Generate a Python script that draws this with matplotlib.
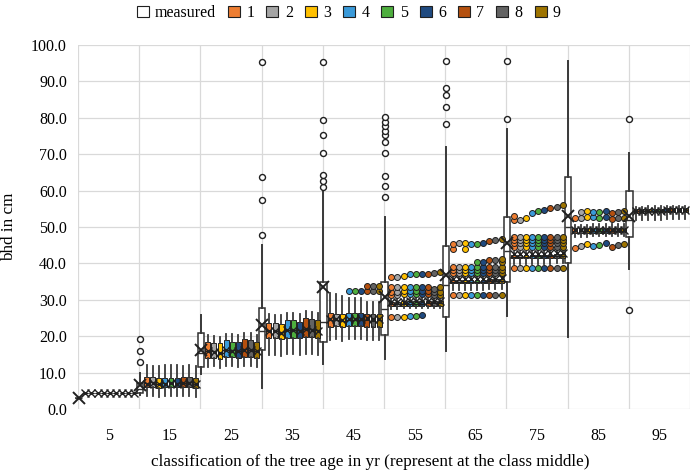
import matplotlib
matplotlib.use('Agg')
import matplotlib.pyplot as plt
from matplotlib.patches import Patch

plt.rcParams['font.family'] = ['Liberation Serif', 'DejaVu Serif']
plt.rcParams['font.size'] = 11

# age classes (class middle) and series
class_mid = [5, 15, 25, 35, 45, 55, 65, 75, 85, 95]
series_names = ['measured', '1', '2', '3', '4', '5', '6', '7', '8', '9']
model_colors = ['#ED7D31', '#A5A5A5', '#FFC000', '#3A9AD9', '#4EAE3E',
                '#1F4A80', '#B4500F', '#636363', '#9E7400']

# measured bhd per class
meas_lo = [3.1, 3.8, 9.5, 5.7, 12.5, 13.6, 16.0, 25.5, 19.9, 38.4]
meas_q1 = [3.1, 4.5, 11.6, 16.2, 18.5, 20.3, 25.4, 35.0, 40.0, 47.3]
meas_med = [3.1, 5.5, 15.5, 21.5, 24.0, 27.5, 34.0, 43.5, 50.0, 52.0]
meas_q3 = [3.1, 7.2, 20.8, 27.7, 35.0, 35.0, 44.8, 52.7, 63.8, 60.0]
meas_hi = [3.1, 10.0, 25.8, 45.0, 60.6, 52.8, 71.9, 76.8, 95.6, 70.2]
meas_mean = [3.1, 6.6, 16.2, 23.1, 33.4, 30.9, 36.8, 45.7, 53.0, 53.0]
meas_out = [
    [],
    [12.8, 16.0, 19.2],
    [],
    [47.8, 57.5, 63.7, 95.4],
    [61.1, 62.7, 64.3, 70.2, 75.3, 79.5, 95.4],
    [58.3, 61.3, 64.0, 70.2, 73.4, 75.3, 76.5, 77.7, 78.9, 80.1],
    [78.2, 82.9, 86.3, 88.1, 95.6],
    [79.7, 95.6],
    [],
    [27.2, 79.7],
]

# model predictions: rows = classes, columns = models 1..9
mod_lo = [
    [4.3, 4.3, 4.3, 4.3, 4.3, 4.3, 4.3, 4.3, 4.3],
    [3.5, 3.6, 3.4, 3.5, 3.5, 3.5, 3.6, 3.6, 3.4],
    [11.6, 11.7, 11.4, 11.8, 11.8, 11.6, 11.9, 11.8, 11.6],
    [14.8, 14.9, 14.6, 15.0, 15.0, 14.9, 15.1, 15.0, 14.8],
    [19.0, 19.1, 18.8, 19.2, 19.2, 19.1, 19.0, 18.9, 19.0],
    [27.6, 27.6, 27.7, 27.7, 27.7, 27.7, 27.8, 27.8, 27.8],
    [32.7, 32.7, 32.7, 32.8, 32.8, 32.8, 32.9, 32.9, 32.9],
    [39.8, 39.8, 39.8, 39.9, 39.9, 39.9, 39.9, 40.0, 40.0],
    [47.3, 47.3, 47.3, 47.4, 47.4, 47.4, 47.4, 47.5, 47.5],
    [51.9, 51.9, 52.0, 52.0, 52.0, 52.1, 52.1, 52.1, 52.2],
]
mod_q1 = [
    [4.3, 4.3, 4.3, 4.3, 4.3, 4.3, 4.3, 4.3, 4.3],
    [6.0, 6.1, 5.9, 6.0, 6.0, 6.0, 6.0, 6.1, 5.9],
    [13.9, 14.0, 13.6, 14.2, 14.2, 14.0, 14.3, 14.2, 13.9],
    [19.4, 19.5, 19.2, 19.6, 19.6, 19.5, 19.8, 19.7, 19.5],
    [22.6, 22.7, 22.4, 22.8, 22.8, 22.7, 22.6, 22.5, 22.6],
    [28.2, 28.2, 28.3, 28.3, 28.3, 28.3, 28.4, 28.4, 28.4],
    [34.5, 34.5, 34.5, 34.6, 34.6, 34.6, 34.7, 34.7, 34.7],
    [41.4, 41.4, 41.4, 41.5, 41.5, 41.5, 41.5, 41.6, 41.6],
    [48.3, 48.3, 48.3, 48.4, 48.4, 48.4, 48.4, 48.5, 48.5],
    [53.9, 53.9, 54.0, 54.0, 54.0, 54.1, 54.1, 54.1, 54.2],
]
mod_med = [
    [4.3, 4.3, 4.3, 4.3, 4.3, 4.3, 4.3, 4.3, 4.3],
    [7.2, 7.3, 7.0, 7.1, 7.2, 7.1, 7.2, 7.3, 7.0],
    [16.0, 15.8, 15.4, 16.3, 16.2, 16.0, 16.5, 16.3, 15.9],
    [21.5, 21.5, 21.2, 21.8, 21.8, 21.6, 22.1, 21.9, 21.7],
    [24.4, 24.4, 24.2, 24.5, 24.5, 24.4, 24.4, 24.3, 24.4],
    [28.8, 28.8, 28.9, 28.9, 28.9, 28.9, 29.0, 29.0, 29.0],
    [34.9, 34.9, 34.9, 35.0, 35.0, 35.0, 35.1, 35.1, 35.1],
    [41.8, 41.8, 41.8, 41.9, 41.9, 41.9, 41.9, 42.0, 42.0],
    [48.8, 48.8, 48.8, 48.9, 48.9, 48.9, 48.9, 49.0, 49.0],
    [54.3, 54.3, 54.4, 54.4, 54.4, 54.5, 54.5, 54.5, 54.6],
]
mod_q3 = [
    [4.3, 4.3, 4.3, 4.3, 4.3, 4.3, 4.3, 4.3, 4.3],
    [8.9, 8.8, 8.6, 8.6, 8.6, 8.6, 8.8, 8.8, 8.4],
    [18.5, 18.2, 18.0, 19.0, 18.5, 18.5, 19.2, 19.0, 18.5],
    [23.7, 23.7, 23.4, 24.4, 24.4, 24.0, 25.0, 24.7, 24.4],
    [26.3, 26.2, 26.0, 26.3, 26.3, 26.3, 26.2, 26.0, 26.2],
    [29.5, 29.5, 29.6, 29.6, 29.6, 29.6, 29.7, 29.7, 29.7],
    [35.4, 35.4, 35.4, 35.5, 35.5, 35.5, 35.6, 35.6, 35.6],
    [42.3, 42.3, 42.3, 42.4, 42.4, 42.4, 42.4, 42.5, 42.5],
    [49.6, 49.6, 49.6, 49.7, 49.7, 49.7, 49.7, 49.8, 49.8],
    [54.9, 54.9, 55.0, 55.0, 55.0, 55.1, 55.1, 55.1, 55.2],
]
mod_hi = [
    [4.3, 4.3, 4.3, 4.3, 4.3, 4.3, 4.3, 4.3, 4.3],
    [12.0, 11.8, 11.8, 12.1, 12.1, 12.0, 11.9, 12.0, 11.7],
    [20.3, 20.0, 19.8, 20.6, 20.5, 20.3, 21.0, 20.8, 20.4],
    [26.0, 25.8, 25.8, 26.4, 26.4, 26.2, 26.9, 26.6, 26.4],
    [32.0, 31.5, 31.0, 30.5, 30.5, 30.5, 29.5, 29.5, 29.5],
    [30.3, 30.3, 30.4, 30.4, 30.4, 30.4, 30.5, 30.5, 30.5],
    [36.3, 36.3, 36.3, 36.4, 36.4, 36.4, 36.5, 36.5, 36.5],
    [43.2, 43.2, 43.2, 43.3, 43.3, 43.3, 43.3, 43.4, 43.4],
    [50.6, 50.6, 50.6, 50.7, 50.7, 50.7, 50.7, 50.8, 50.8],
    [55.6, 55.6, 55.7, 55.7, 55.7, 55.8, 55.8, 55.8, 55.9],
]
mod_mean = [
    [4.3, 4.3, 4.3, 4.3, 4.3, 4.3, 4.3, 4.3, 4.3],
    [7.0, 7.1, 6.9, 7.0, 7.1, 7.0, 7.1, 7.1, 6.9],
    [15.8, 15.7, 15.3, 16.1, 16.0, 15.9, 16.3, 16.1, 15.8],
    [21.3, 21.3, 21.0, 21.6, 21.6, 21.4, 21.9, 21.7, 21.5],
    [24.6, 24.6, 24.4, 24.8, 24.8, 24.7, 24.9, 24.8, 24.8],
    [29.4, 29.4, 29.5, 29.6, 29.6, 29.6, 29.7, 29.7, 29.8],
    [35.6, 35.6, 35.6, 35.7, 35.7, 35.7, 35.8, 35.8, 35.9],
    [42.6, 42.6, 42.6, 42.7, 42.7, 42.7, 42.8, 42.8, 42.9],
    [49.1, 49.2, 49.2, 49.2, 49.2, 49.3, 49.2, 49.3, 49.3],
    [54.4, 54.4, 54.5, 54.5, 54.5, 54.6, 54.6, 54.6, 54.7],
]
mod_out = [
    [[], [], [], [], [], [], [], [], []],
    [[], [], [], [], [], [], [], [], []],
    [[], [], [], [], [], [], [], [], []],
    [[], [], [], [], [], [], [], [], []],
    [[], [], [], [32.5], [32.5], [32.5], [32.4, 33.8], [32.4, 33.8], [32.4, 33.8]],
    [[25.4, 31.3, 32.2, 33.6, 36.2], [25.4, 31.3, 32.2, 33.6, 36.4],
     [25.4, 31.5, 32.4, 33.4, 36.6], [25.5, 31.5, 32.4, 33.4, 37.0],
     [25.6, 31.5, 32.4, 33.4, 37.1], [25.7, 31.5, 32.4, 33.4, 37.2],
     [31.5, 32.4, 33.4, 37.2], [31.3, 32.2, 33.0, 37.5], [31.3, 32.2, 33.4, 37.6]],
    [[31.3, 37.3, 38.2, 39.1, 43.9, 45.3], [31.3, 37.3, 38.2, 39.1, 45.5],
     [31.3, 37.3, 38.2, 39.1, 43.9, 45.6], [31.3, 37.3, 38.2, 39.1, 45.3],
     [31.3, 37.3, 38.2, 39.1, 40.5, 45.3], [31.3, 37.3, 38.2, 39.1, 40.5, 45.6],
     [31.3, 37.3, 38.2, 39.1, 40.8, 46.1], [31.3, 37.3, 38.2, 39.1, 41.0, 46.4],
     [31.3, 37.3, 38.2, 39.1, 40.5, 41.3, 46.6]],
    [[38.6, 44.6, 45.5, 46.4, 47.3, 51.9, 52.9], [38.6, 44.6, 45.5, 46.4, 47.3, 51.9],
     [38.6, 44.6, 45.5, 46.4, 47.3, 52.5], [38.6, 44.6, 45.5, 46.4, 47.3, 53.9],
     [38.6, 44.6, 45.5, 46.4, 47.3, 54.4], [38.6, 44.6, 45.5, 46.4, 47.3, 54.8],
     [38.6, 44.6, 45.5, 46.4, 47.3, 55.2], [38.6, 44.6, 45.5, 46.4, 47.3, 55.5],
     [38.6, 44.6, 45.5, 46.4, 47.3, 56.0]],
    [[44.1, 52.4], [44.7, 52.4, 54.0], [45.3, 52.8, 54.3], [44.7, 52.8, 54.0],
     [45.0, 52.4, 54.0], [45.5, 52.8, 54.3], [44.4, 52.2, 53.8],
     [45.0, 52.4, 54.0], [45.3, 52.6, 54.3]],
    [[], [], [], [], [], [], [], [], []],
]

fig = plt.figure(figsize=(6.92, 4.71), dpi=100)
ax = fig.add_axes([78 / 692, 1 - 409 / 471, 612 / 692, 364 / 471])

whisker_col = '#383838'

# measured boxes, at the left edge of each class
meas_stats = []
for i in range(len(class_mid)):
    meas_stats.append({'whislo': meas_lo[i], 'q1': meas_q1[i], 'med': meas_med[i],
                       'q3': meas_q3[i], 'whishi': meas_hi[i], 'mean': meas_mean[i],
                       'fliers': meas_out[i]})
meas_pos = [m - 5 + 0.1 for m in class_mid]
ax.bxp(meas_stats, positions=meas_pos, widths=1.05, patch_artist=True,
       showmeans=True, showcaps=False,
       boxprops=dict(facecolor='white', edgecolor='#303030', linewidth=1.1),
       whiskerprops=dict(color=whisker_col, linewidth=1.4),
       medianprops=dict(color='#303030', linewidth=1.0),
       meanprops=dict(marker='x', markeredgecolor='#202020', markersize=8,
                      markeredgewidth=1.4),
       flierprops=dict(marker='o', markerfacecolor='white',
                       markeredgecolor='#202020', markersize=4.3,
                       markeredgewidth=1.0))

# model boxes, one position per model inside each class
for j in range(9):
    stats = []
    for i in range(len(class_mid)):
        stats.append({'whislo': mod_lo[i][j], 'q1': mod_q1[i][j], 'med': mod_med[i][j],
                      'q3': mod_q3[i][j], 'whishi': mod_hi[i][j], 'mean': mod_mean[i][j],
                      'fliers': mod_out[i][j]})
    pos = [m - 5 + 1.2 + j for m in class_mid]
    ax.bxp(stats, positions=pos, widths=0.8, patch_artist=True,
           showmeans=True, showcaps=False,
           boxprops=dict(facecolor=model_colors[j], edgecolor='#202020', linewidth=0.7),
           whiskerprops=dict(color=whisker_col, linewidth=1.3),
           medianprops=dict(color='#202020', linewidth=0.8),
           meanprops=dict(marker='x', markeredgecolor='#202020', markersize=5.5,
                          markeredgewidth=1.0),
           flierprops=dict(marker='o', markerfacecolor=model_colors[j],
                           markeredgecolor='#202020', markersize=4.3,
                           markeredgewidth=0.7))

for a in ax.get_children():
    if hasattr(a, 'set_clip_on'):
        a.set_clip_on(False)

ax.set_xlim(0, 100)
ax.set_ylim(0, 100)
ax.set_xticks(class_mid)
ax.set_xticklabels([str(m) for m in class_mid])
ax.set_xticks(range(0, 101, 10), minor=True)
ax.set_yticks(range(0, 101, 10))
ax.set_yticklabels(['%.1f' % v for v in range(0, 101, 10)])
ax.tick_params(axis='both', which='both', length=0, labelsize=11.5)
ax.tick_params(axis='x', pad=14)
ax.tick_params(axis='y', pad=8)
ax.grid(True, axis='y', which='major', color='#D9D9D9', linewidth=0.9)
ax.grid(True, axis='x', which='minor', color='#D9D9D9', linewidth=0.9)
ax.set_axisbelow(True)
for s in ax.spines.values():
    s.set_visible(False)

fig.text(9 / 692, 0.5 * (1 - 409 / 471) + 0.5 * (1 - 45 / 471), 'bhd in cm',
         rotation=90, ha='center', va='center', fontsize=12.3)
fig.text(370 / 692, 1 - 462 / 471,
         'classification of the tree age in yr (represent at the class middle)',
         ha='center', va='center', fontsize=12.3)

handles = [Patch(facecolor='white', edgecolor='#202020', linewidth=0.8)]
for c in model_colors:
    handles.append(Patch(facecolor=c, edgecolor='#202020', linewidth=0.8))
fig.legend(handles, series_names, loc='center', bbox_to_anchor=(0.504, 1 - 13 / 471),
           ncol=10, frameon=False, handlelength=0.75, handleheight=0.75,
           handletextpad=0.4, columnspacing=0.75, fontsize=11.5)

fig.savefig('out.png', dpi=100)
